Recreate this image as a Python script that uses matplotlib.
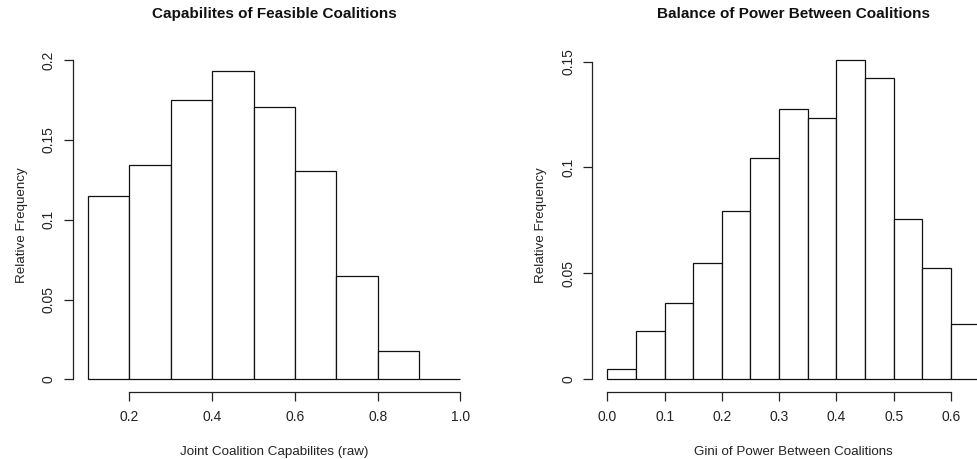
import matplotlib
matplotlib.use("Agg")
import matplotlib.pyplot as plt

plt.rcParams["font.family"] = ["Liberation Sans", "DejaVu Sans"]

# left panel: joint coalition capabilities, bins of 0.1
cap_edges = [0.1, 0.2, 0.3, 0.4, 0.5, 0.6, 0.7, 0.8, 0.9]
cap_freq = [0.1149, 0.1346, 0.1753, 0.1931, 0.1705, 0.1308, 0.0650, 0.0176, 0.0004]
cap_xticks = [0.2, 0.4, 0.6, 0.8, 1.0]
cap_xlabels = ["0.2", "0.4", "0.6", "0.8", "1.0"]
cap_yticks = [0, 0.05, 0.1, 0.15, 0.2]
cap_ylabels = ["0", "0.05", "0.1", "0.15", "0.2"]

# right panel: gini of power, bins of 0.05
gini_edges = [0.0, 0.05, 0.1, 0.15, 0.2, 0.25, 0.3, 0.35, 0.4, 0.45, 0.5, 0.55, 0.6]
gini_freq = [0.0047, 0.0227, 0.0360, 0.0551, 0.0793, 0.1047, 0.1275, 0.1232,
             0.1506, 0.1424, 0.0756, 0.0526, 0.0263]
gini_xticks = [0.0, 0.1, 0.2, 0.3, 0.4, 0.5, 0.6]
gini_xlabels = ["0.0", "0.1", "0.2", "0.3", "0.4", "0.5", "0.6"]
gini_yticks = [0, 0.05, 0.1, 0.15]
gini_ylabels = ["0", "0.05", "0.1", "0.15"]

W, H = 978, 459
fig = plt.figure(figsize=(W / 100, H / 100), dpi=100)

# the right panel runs past the figure edge, like the cropped original
ax1 = fig.add_axes([73 / W, (H - 391.6) / H, 402.4 / W, 332.6 / H])
ax2 = fig.add_axes([592.4 / W, (H - 391.6) / H, 402.1 / W, 332.6 / H])

INK = "#222222"


def r_hist(ax, edges, freq, width, xlim, ylim, xt, xl, yt, yl, title, xlabel):
    ax.bar(edges, freq, width=width, align="edge", facecolor="white",
           edgecolor="#111111", linewidth=0.9)
    ax.set_xlim(*xlim)
    ax.set_ylim(*ylim)
    for s in ("top", "right"):
        ax.spines[s].set_visible(False)
    # R-style axis lines: only from first to last tick
    ax.spines["bottom"].set_bounds(xt[0], xt[-1])
    ax.spines["left"].set_bounds(yt[0], yt[-1])
    for s in ("bottom", "left"):
        ax.spines[s].set_linewidth(0.9)
        ax.spines[s].set_color(INK)
    ax.set_xticks(xt)
    ax.set_xticklabels(xl)
    ax.set_yticks(yt)
    ax.set_yticklabels(yl, rotation=90, va="center")
    ax.tick_params(axis="both", length=6.5, width=0.9, color=INK,
                   labelsize=10, labelcolor=INK)
    ax.tick_params(axis="x", pad=6.5)
    ax.tick_params(axis="y", pad=6)
    ax.set_xlabel(xlabel, fontsize=9.6, color=INK, labelpad=16)
    ax.set_ylabel("Relative Frequency", fontsize=9.6, color=INK, labelpad=10)

    box = ax.get_position()
    fig.text(box.x0 + box.width / 2, 1 - 14 / H, title, ha="center", va="center",
             fontsize=11, fontweight="bold", color="#111111")


r_hist(ax1, cap_edges, cap_freq, 0.1, (0.064, 1.036), (-0.0077, 0.2008),
       cap_xticks, cap_xlabels, cap_yticks, cap_ylabels,
       "Capabilites of Feasible Coalitions", "Joint Coalition Capabilites (raw)")
r_hist(ax2, gini_edges, gini_freq, 0.05, (-0.026, 0.676), (-0.0058, 0.1512),
       gini_xticks, gini_xlabels, gini_yticks, gini_ylabels,
       "Balance of Power Between Coalitions", "Gini of Power Between Coalitions")

fig.savefig("out.png", dpi=100)
